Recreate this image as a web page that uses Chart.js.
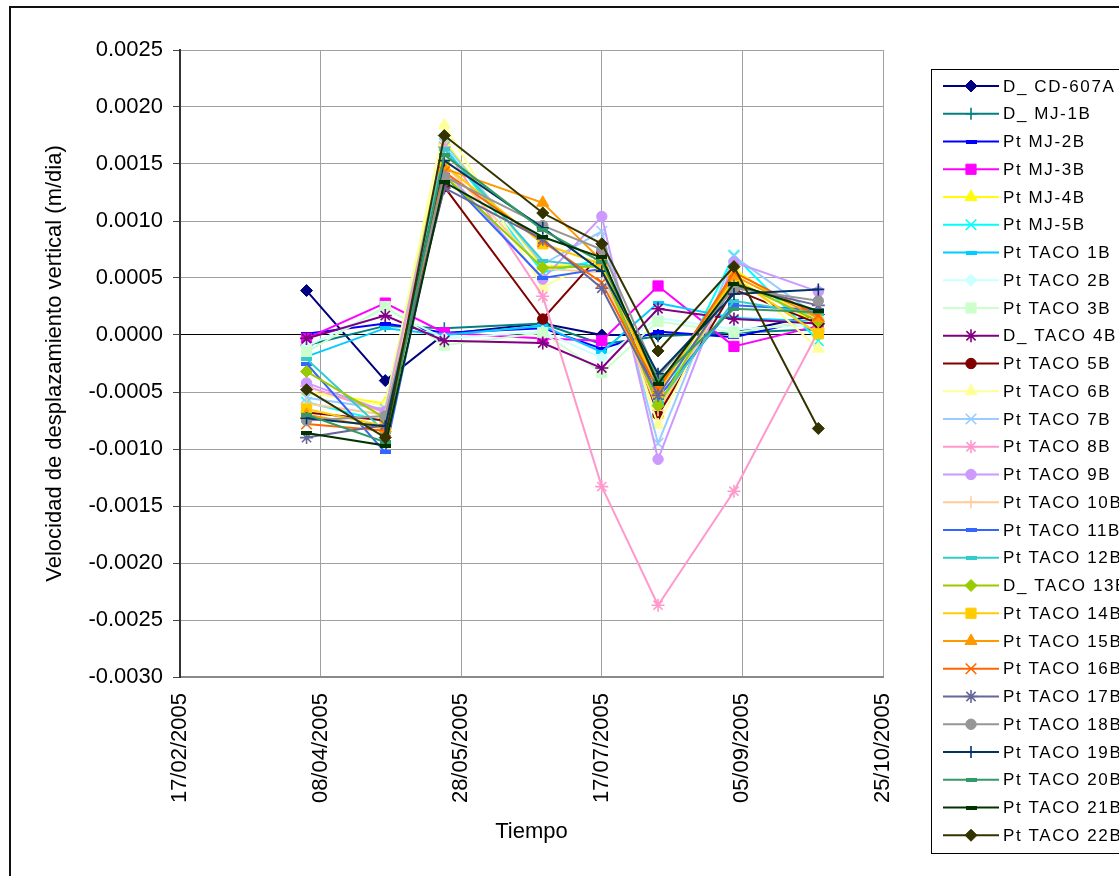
<!DOCTYPE html>
<html>
<head>
<meta charset="utf-8">
<script src="https://cdn.jsdelivr.net/npm/chart.js@4/dist/chart.umd.min.js"></script>
<style>
  html, body { margin: 0; padding: 0; background: #ffffff; }
  canvas { display: block; }
</style>
</head>
<body>
<canvas id="grafico" width="1119" height="876"></canvas>
<script>
// Fechas de medición (dd/mm/aaaa)
const fechas = ['03/04/2005', '01/05/2005', '22/05/2005', '26/06/2005',
                '17/07/2005', '06/08/2005', '02/09/2005', '02/10/2005'];

// Velocidad de desplazamiento vertical (m/dia) por punto de control
const cd607a  = [0.00039, -0.00040, 0.00001, 0.00010, 0.00000, 0.00000, 0.00002, 0.00018];
const mj1b    = [-0.00009, 0.00008, 0.00006, 0.00010, -0.00008, -0.00001, 0.00002, 0.00005];
const mj2b    = [0.00001, 0.00010, 0.00002, 0.00006, -0.00012, 0.00003, -0.00002, 0.00015];
const mj3b    = [-0.00003, 0.00028, 0.00002, -0.00003, -0.00005, 0.00043, -0.00010, 0.00008];
const mj4b    = [-0.00050, -0.00060, 0.00170, 0.00060, 0.00062, -0.00070, 0.00058, 0.00008];
const mj5b    = [-0.00059, -0.00076, 0.00165, 0.00055, 0.00066, -0.00065, 0.00070, -0.00005];
const taco1b  = [-0.00019, 0.00006, 0.00000, 0.00008, -0.00015, 0.00028, 0.00015, 0.00012];
const taco2b  = [-0.00010, 0.00023, -0.00003, 0.00003, -0.00020, 0.00015, 0.00005, 0.00009];
const taco3b  = [-0.00015, 0.00025, -0.00009, 0.00002, -0.00033, 0.00012, 0.00002, 0.00013];
const taco4b  = [-0.00003, 0.00017, -0.00005, -0.00007, -0.00029, 0.00023, 0.00014, 0.00010];
const taco5b  = [-0.00068, -0.00075, 0.00130, 0.00014, 0.00072, -0.00070, 0.00040, 0.00010];
const taco6b  = [-0.00050, -0.00062, 0.00184, 0.00042, 0.00068, -0.00079, 0.00056, -0.00012];
const taco7b  = [-0.00055, -0.00065, 0.00168, 0.00062, 0.00091, -0.00095, 0.00069, 0.00016];
const taco8b  = [-0.00045, -0.00068, 0.00165, 0.00034, -0.00133, -0.00237, -0.00137, 0.00003];
const taco9b  = [-0.00042, -0.00067, 0.00145, 0.00049, 0.00104, -0.00109, 0.00064, 0.00038];
const taco10b = [-0.00060, -0.00070, 0.00150, 0.00058, 0.00055, -0.00066, 0.00046, 0.00014];
const taco11b = [-0.00025, -0.00103, 0.00140, 0.00050, 0.00058, -0.00055, 0.00026, 0.00022];
const taco12b = [-0.00021, -0.00085, 0.00163, 0.00065, 0.00060, -0.00060, 0.00030, 0.00018];
const taco13b = [-0.00032, -0.00073, 0.00140, 0.00059, 0.00060, -0.00062, 0.00048, 0.00012];
const taco14b = [-0.00065, -0.00080, 0.00149, 0.00080, 0.00062, -0.00050, 0.00050, 0.00001];
const taco15b = [-0.00070, -0.00082, 0.00146, 0.00116, 0.00065, -0.00045, 0.00052, 0.00015];
const taco16b = [-0.00078, -0.00084, 0.00143, 0.00082, 0.00046, -0.00048, 0.00055, 0.00017];
const taco17b = [-0.00090, -0.00079, 0.00129, 0.00084, 0.00041, -0.00053, 0.00043, 0.00026];
const taco18b = [-0.00075, -0.00071, 0.00139, 0.00096, 0.00075, -0.00037, 0.00041, 0.00030];
const taco19b = [-0.00073, -0.00080, 0.00153, 0.00094, 0.00056, -0.00034, 0.00036, 0.00040];
const taco20b = [-0.00070, -0.00094, 0.00158, 0.00092, 0.00064, -0.00040, 0.00023, 0.00020];
const taco21b = [-0.00086, -0.00097, 0.00134, 0.00086, 0.00068, -0.00043, 0.00045, 0.00021];
const taco22b = [-0.00048, -0.00090, 0.00175, 0.00107, 0.00080, -0.00014, 0.00060, -0.00082];

const nombres = ['D_ CD-607A', 'D_ MJ-1B', 'Pt MJ-2B', 'Pt MJ-3B', 'Pt MJ-4B', 'Pt MJ-5B',
  'Pt TACO 1B', 'Pt TACO 2B', 'Pt TACO 3B', 'D_ TACO 4B', 'Pt TACO 5B', 'Pt TACO 6B',
  'Pt TACO 7B', 'Pt TACO 8B', 'Pt TACO 9B', 'Pt TACO 10B', 'Pt TACO 11B', 'Pt TACO 12B',
  'D_ TACO 13B', 'Pt TACO 14B', 'Pt TACO 15B', 'Pt TACO 16B', 'Pt TACO 17B', 'Pt TACO 18B',
  'Pt TACO 19B', 'Pt TACO 20B', 'Pt TACO 21B', 'Pt TACO 22B'];

const valores = [cd607a, mj1b, mj2b, mj3b, mj4b, mj5b, taco1b, taco2b, taco3b, taco4b,
  taco5b, taco6b, taco7b, taco8b, taco9b, taco10b, taco11b, taco12b, taco13b, taco14b,
  taco15b, taco16b, taco17b, taco18b, taco19b, taco20b, taco21b, taco22b];

// Ticks del eje Y
const ticksY = { min: -0.0030, max: 0.0025, paso: 0.0005 };

// Estilo de cada serie
const colores = ['#000080', '#008080', '#0000FF', '#FF00FF', '#FFFF00', '#00FFFF',
  '#00CCFF', '#CCFFFF', '#CCFFCC', '#800080', '#800000', '#FFFF99',
  '#99CCFF', '#FF99CC', '#CC99FF', '#FFCC99', '#3366FF', '#33CCCC',
  '#99CC00', '#FFCC00', '#FF9900', '#FF6600', '#666699', '#969696',
  '#003366', '#339966', '#003300', '#333300'];
const marcadores = ['diamond', 'plus', 'dash', 'square', 'triangle', 'x',
  'dash', 'diamond', 'square', 'star', 'circle', 'triangle',
  'x', 'star', 'circle', 'plus', 'dash', 'dash',
  'diamond', 'square', 'triangle', 'x', 'star', 'circle',
  'plus', 'dash', 'dash', 'diamond'];

const FUENTE = '"Liberation Sans", Arial, Helvetica, sans-serif';
const BASE = Date.UTC(2005, 1, 17);   // origen del eje de tiempo
const DIA = 86400000;

function diaDe(s) {
  const [d, m, a] = s.split('/').map(Number);
  return (Date.UTC(a, m - 1, d) - BASE) / DIA;
}
function dos(n) { return (n < 10 ? '0' : '') + n; }
function fechaDe(dias) {
  const f = new Date(BASE + Math.round(dias) * DIA);
  return dos(f.getUTCDate()) + '/' + dos(f.getUTCMonth() + 1) + '/' + f.getUTCFullYear();
}

function barra(color) {
  const c = document.createElement('canvas');
  c.width = 11; c.height = 4;
  const g = c.getContext('2d');
  g.fillStyle = color;
  g.fillRect(0, 0, 11, 4);
  return c;
}

function estiloPunto(tipo, color) {
  switch (tipo) {
    case 'diamond':  return { pointStyle: 'rectRot', radius: 6, borderWidth: 1 };
    case 'plus':     return { pointStyle: 'cross', radius: 6, borderWidth: 1.6 };
    case 'dash':     return { pointStyle: barra(color), radius: 5, borderWidth: 1 };
    case 'square':   return { pointStyle: 'rect', radius: 7.2, borderWidth: 1 };
    case 'triangle': return { pointStyle: 'triangle', radius: 7, borderWidth: 1 };
    case 'x':        return { pointStyle: 'crossRot', radius: 7.5, borderWidth: 1.6 };
    case 'star':     return { pointStyle: 'star', radius: 6.5, borderWidth: 1.6 };
    default:         return { pointStyle: 'circle', radius: 5.2, borderWidth: 1 };
  }
}

const dias = fechas.map(diaDe);
const estilos = marcadores.map((m, i) => estiloPunto(m, colores[i]));

const datasets = valores.map((serie, i) => ({
  label: nombres[i],
  data: serie.map((v, j) => ({ x: dias[j], y: v })),
  borderColor: colores[i],
  backgroundColor: colores[i],
  borderWidth: 2,
  tension: 0,
  pointStyle: estilos[i].pointStyle,
  pointRadius: estilos[i].radius,
  pointBorderWidth: estilos[i].borderWidth,
  pointBackgroundColor: colores[i],
  pointBorderColor: colores[i],
  order: -i
}));

// Marco exterior del gráfico
const marco = {
  id: 'marco',
  beforeDraw(chart) {
    const ctx = chart.ctx;
    ctx.save();
    ctx.fillStyle = '#ffffff';
    ctx.fillRect(0, 0, chart.width, chart.height);
    ctx.strokeStyle = '#111111';
    ctx.lineWidth = 2;
    ctx.strokeRect(10, 7, 1300, 1000);
    ctx.restore();
  }
};

// Leyenda en recuadro a la derecha
const leyenda = {
  id: 'leyenda',
  afterDraw(chart) {
    const ctx = chart.ctx;
    const x0 = 931.5, y0 = 69.5, paso = 27.75, yPrimera = 86;
    ctx.save();
    ctx.fillStyle = '#ffffff';
    ctx.fillRect(x0, y0, 300, 784);
    ctx.strokeStyle = '#000000';
    ctx.lineWidth = 1;
    ctx.strokeRect(x0, y0, 300, 784);
    chart.data.datasets.forEach((ds, i) => {
      const y = yPrimera + i * paso;
      ctx.strokeStyle = ds.borderColor;
      ctx.lineWidth = 2;
      ctx.beginPath();
      ctx.moveTo(943, y);
      ctx.lineTo(999, y);
      ctx.stroke();
      const e = estilos[i];
      ctx.fillStyle = ds.borderColor;
      ctx.strokeStyle = ds.borderColor;
      ctx.lineWidth = e.borderWidth;
      Chart.helpers.drawPoint(ctx, { pointStyle: e.pointStyle, radius: e.radius, borderWidth: e.borderWidth, rotation: 0 }, 971, y);
      ctx.fillStyle = '#000000';
      ctx.font = '17px ' + FUENTE;
      ctx.textBaseline = 'middle';
      ctx.textAlign = 'left';
      if ('letterSpacing' in ctx) ctx.letterSpacing = '1.6px';
      ctx.fillText(ds.label, 1003, y + 1);
      if ('letterSpacing' in ctx) ctx.letterSpacing = '0px';
    });
    ctx.restore();
  }
};

new Chart(document.getElementById('grafico'), {
  type: 'line',
  data: { datasets },
  options: {
    responsive: false,
    animation: false,
    devicePixelRatio: 1,
    layout: { padding: { left: 10, right: 236, top: 50, bottom: 0 } },
    plugins: {
      legend: { display: false },
      tooltip: { enabled: false },
      title: { display: false }
    },
    elements: { line: { tension: 0 } },
    scales: {
      x: {
        type: 'linear',
        min: 0,
        max: 250,
        afterFit(s) { s.height = 199; },
        ticks: {
          stepSize: 50,
          autoSkip: false,
          minRotation: 90,
          maxRotation: 90,
          padding: 16,
          color: '#000000',
          font: { family: FUENTE, size: 22 },
          callback: (v) => fechaDe(v)
        },
        grid: { color: '#a0a0a0', lineWidth: 1, drawTicks: false },
        border: { color: '#8a8a8a', width: 2 },
        title: {
          display: true,
          text: 'Tiempo',
          color: '#000000',
          font: { family: FUENTE, size: 22 },
          padding: { top: 0, bottom: 31 }
        }
      },
      y: {
        min: ticksY.min,
        max: ticksY.max,
        afterFit(s) { s.width = 170; },
        ticks: {
          stepSize: ticksY.paso,
          padding: 10,
          color: '#000000',
          font: { family: FUENTE, size: 22 },
          callback: (v) => (Math.abs(v) < 1e-9 ? 0 : v).toFixed(4)
        },
        grid: {
          color: (c) => (c.tick && Math.abs(c.tick.value) < 1e-9 ? '#000000' : '#a0a0a0'),
          tickColor: '#444444',
          tickLength: 7,
          lineWidth: 1
        },
        border: { color: '#333333', width: 2 },
        title: {
          display: true,
          text: 'Velocidad de desplazamiento vertical (m/dia)',
          color: '#000000',
          font: { family: FUENTE, size: 22 },
          padding: { top: 32, bottom: 0 }
        }
      }
    }
  },
  plugins: [marco, leyenda]
});
</script>
</body>
</html>
